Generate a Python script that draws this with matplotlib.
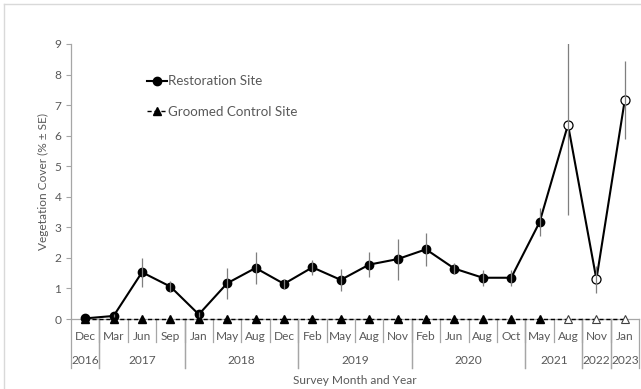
import matplotlib
matplotlib.use("Agg")
import matplotlib.pyplot as plt
from matplotlib.lines import Line2D
import numpy as np

plt.rcParams['font.family'] = ['Lato', 'DejaVu Sans']

months = ['Dec', 'Mar', 'Jun', 'Sep', 'Jan', 'May', 'Aug', 'Dec', 'Feb', 'May',
          'Aug', 'Nov', 'Feb', 'Jun', 'Aug', 'Oct', 'May', 'Aug', 'Nov', 'Jan']
years = ['2016', '2017', '2017', '2017', '2018', '2018', '2018', '2018', '2019', '2019',
         '2019', '2019', '2020', '2020', '2020', '2020', '2021', '2021', '2022', '2023']
restoration = [0.02, 0.10, 1.53, 1.06, 0.15, 1.17, 1.67, 1.15, 1.69, 1.28,
               1.78, 1.96, 2.28, 1.65, 1.35, 1.35, 3.17, 6.36, 1.30, 7.17]
restoration_se = [0.00, 0.05, 0.48, 0.18, 0.08, 0.50, 0.52, 0.17, 0.24, 0.35,
                  0.42, 0.67, 0.53, 0.19, 0.27, 0.26, 0.46, 2.96, 0.45, 1.28]
control = [0, 0, 0, 0, 0, 0, 0, 0, 0, 0,
           0, 0, 0, 0, 0, 0, 0, 0, 0, 0]
# surveys from this index on are drawn with open markers
open_from = 17

TXT = '#595959'
AXC = '#a6a6a6'
FS = 8.6

fig = plt.figure(figsize=(6.41, 3.89), dpi=100)
W, H = 641, 389
x0, x1, ytop, ybot = 71, 639, 44, 319
ax = fig.add_axes([x0 / W, 1 - ybot / H, (x1 - x0) / W, (ybot - ytop) / H])

x = np.arange(len(months))
rest = np.array(restoration)
ctrl = np.array(control)

# error bars, clipped at the top of the axis
ax.errorbar(x, rest, yerr=restoration_se, fmt='none', ecolor='#7f7f7f',
            elinewidth=0.9, capsize=0, zorder=6)

# groomed control
ax.plot(x, ctrl, color='black', lw=1.0, ls=(0, (3, 2)), zorder=3, clip_on=False)
ax.plot(x[:open_from], ctrl[:open_from], ls='none', marker='^', ms=6,
        color='black', zorder=4, clip_on=False)
ax.plot(x[open_from:], ctrl[open_from:], ls='none', marker='^', ms=6,
        mfc='white', mec='#404040', mew=0.8, zorder=4, clip_on=False)

# restoration site
ax.plot(x, rest, color='black', lw=1.5, zorder=5, clip_on=False)
ax.plot(x[:open_from], rest[:open_from], ls='none', marker='o', ms=6,
        color='black', zorder=5, clip_on=False)
ax.plot(x[open_from:], rest[open_from:], ls='none', marker='o', ms=6.5,
        mfc='white', mec='black', mew=0.9, zorder=5, clip_on=False)

ax.set_xlim(-0.5, len(months) - 0.5)
ax.set_ylim(0, 9)
ax.set_yticks(range(0, 10))
ax.set_xticks([])
ax.tick_params(axis='y', colors=AXC, labelcolor=TXT, labelsize=FS,
               length=3.3, width=0.8, pad=3.6)
for s in ['top', 'right']:
    ax.spines[s].set_visible(False)
for s in ['left', 'bottom']:
    ax.spines[s].set_color(AXC)
    ax.spines[s].set_linewidth(0.9)

# two-level category axis: months, then years
ph = ybot - ytop
month_div = -23 / ph
year_div = -49 / ph
trans = ax.get_xaxis_transform()
for i, m in enumerate(months):
    ax.text(i, -17 / ph, m, transform=trans, ha='center', va='center',
            fontsize=FS, color=TXT)
    if i < len(months) - 1:
        ax.plot([i + 0.5, i + 0.5], [0, month_div], transform=trans,
                color=AXC, lw=0.9, clip_on=False)

groups = []
start = 0
for i in range(1, len(years) + 1):
    if i == len(years) or years[i] != years[start]:
        groups.append((years[start], start, i - 1))
        start = i
for label, a, b in groups:
    ax.text((a + b) / 2, -42 / ph, label, transform=trans, ha='center',
            va='center', fontsize=FS, color=TXT)
    for edge in (a - 0.5, b + 0.5):
        ax.plot([edge, edge], [0, year_div], transform=trans,
                color=AXC, lw=0.9, clip_on=False)

ax.text(0.5, -61 / ph, 'Survey Month and Year', transform=ax.transAxes,
        ha='center', va='center', fontsize=FS, color=TXT)
fig.text(43 / W, 1 - 182 / H, 'Vegetation Cover (% \u00b1 SE)', rotation=90,
         ha='center', va='center', fontsize=FS, color=TXT)

handles = [
    Line2D([], [], color='black', lw=1.5, marker='o', ms=6),
    Line2D([], [], color='black', lw=1.0, ls=(0, (3, 2)), marker='^', ms=6),
]
leg = ax.legend(handles, ['Restoration Site', 'Groomed Control Site'],
                loc='upper left', bbox_to_anchor=((142 - x0) / (x1 - x0), (ybot - 70) / ph),
                frameon=False, fontsize=9.6, handlelength=1.45, handletextpad=0.1,
                labelspacing=1.4, borderaxespad=0)
for t in leg.get_texts():
    t.set_color(TXT)

# outer chart border
fig.add_artist(Line2D([4 / W, 4 / W], [0, 1 - 4 / H], color='#d9d9d9', lw=1))
fig.add_artist(Line2D([4 / W, 1], [1 - 4 / H, 1 - 4 / H], color='#d9d9d9', lw=1))

fig.savefig('out.png', dpi=100)
